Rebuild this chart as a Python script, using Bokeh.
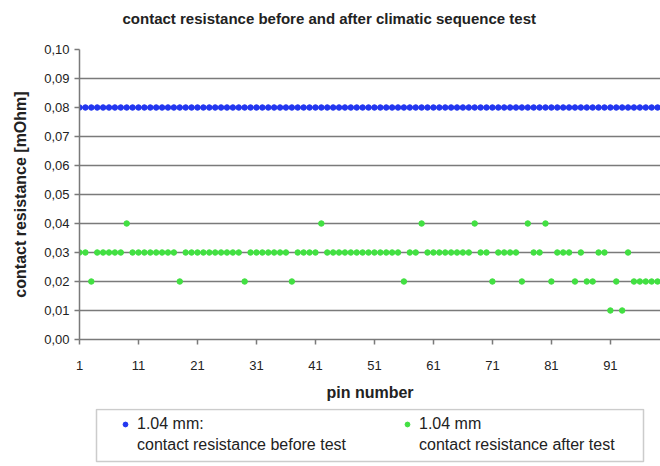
from bokeh.plotting import figure
from bokeh.layouts import column
from bokeh.models import (Range1d, FixedTicker, CustomJSTickFormatter, Legend, LegendItem,
                          ColumnDataSource, BoxAnnotation, Label)
from bokeh.embed import file_html
from bokeh.resources import INLINE

# ---- data ----
title_text = "contact resistance before and after climatic sequence test"
x_label = "pin number"
y_label = "contact resistance [mOhm]"
legend_line1 = ["1.04 mm:", "1.04 mm"]
legend_line2 = ["contact resistance before test", "contact resistance after test"]

pins = list(range(1, 101))
before_test = [
    0.08, 0.08, 0.08, 0.08, 0.08, 0.08, 0.08, 0.08, 0.08, 0.08,
    0.08, 0.08, 0.08, 0.08, 0.08, 0.08, 0.08, 0.08, 0.08, 0.08,
    0.08, 0.08, 0.08, 0.08, 0.08, 0.08, 0.08, 0.08, 0.08, 0.08,
    0.08, 0.08, 0.08, 0.08, 0.08, 0.08, 0.08, 0.08, 0.08, 0.08,
    0.08, 0.08, 0.08, 0.08, 0.08, 0.08, 0.08, 0.08, 0.08, 0.08,
    0.08, 0.08, 0.08, 0.08, 0.08, 0.08, 0.08, 0.08, 0.08, 0.08,
    0.08, 0.08, 0.08, 0.08, 0.08, 0.08, 0.08, 0.08, 0.08, 0.08,
    0.08, 0.08, 0.08, 0.08, 0.08, 0.08, 0.08, 0.08, 0.08, 0.08,
    0.08, 0.08, 0.08, 0.08, 0.08, 0.08, 0.08, 0.08, 0.08, 0.08,
    0.08, 0.08, 0.08, 0.08, 0.08, 0.08, 0.08, 0.08, 0.08, 0.08,
]
after_test = [
    0.03, 0.03, 0.02, 0.03, 0.03, 0.03, 0.03, 0.03, 0.04, 0.03,
    0.03, 0.03, 0.03, 0.03, 0.03, 0.03, 0.03, 0.02, 0.03, 0.03,
    0.03, 0.03, 0.03, 0.03, 0.03, 0.03, 0.03, 0.03, 0.02, 0.03,
    0.03, 0.03, 0.03, 0.03, 0.03, 0.03, 0.02, 0.03, 0.03, 0.03,
    0.03, 0.04, 0.03, 0.03, 0.03, 0.03, 0.03, 0.03, 0.03, 0.03,
    0.03, 0.03, 0.03, 0.03, 0.03, 0.02, 0.03, 0.03, 0.04, 0.03,
    0.03, 0.03, 0.03, 0.03, 0.03, 0.03, 0.03, 0.04, 0.03, 0.03,
    0.02, 0.03, 0.03, 0.03, 0.03, 0.02, 0.04, 0.03, 0.03, 0.04,
    0.02, 0.03, 0.03, 0.03, 0.02, 0.03, 0.02, 0.02, 0.03, 0.03,
    0.01, 0.02, 0.01, 0.03, 0.02, 0.02, 0.02, 0.02, 0.02, 0.02,
]
x_ticks = [1, 11, 21, 31, 41, 51, 61, 71, 81, 91]
y_ticks = [0.0, 0.01, 0.02, 0.03, 0.04, 0.05, 0.06, 0.07, 0.08, 0.09, 0.1]

FONT = "Liberation Sans"
TXT = "#222222"
GRID = "#7a7a7a"
BLUE = "#2236f0"
GREEN = "#42e042"


def strip(height):
    f = figure(width=660, height=height, output_backend="svg", toolbar_location=None,
               x_range=Range1d(0, 581), y_range=Range1d(0, height),
               x_axis_location=None, y_axis_location=None,
               min_border_left=79, min_border_right=0, min_border_top=0, min_border_bottom=0)
    f.outline_line_color = None
    f.xgrid.grid_line_color = None
    f.ygrid.grid_line_color = None
    f.background_fill_color = "white"
    f.border_fill_color = "white"
    return f


# ---- title strip (coordinates are pixels from the strip's frame) ----
tf = strip(30)
tf.add_layout(Label(x=43, y=12, text=title_text, text_font=FONT, text_font_size="15px",
                    text_font_style="bold", text_color=TXT, text_baseline="middle",
                    text_align="left"))

# ---- main chart ----
p = figure(width=660, height=378, output_backend="svg", toolbar_location=None,
           x_range=Range1d(1, 99.5), y_range=Range1d(0, 0.1),
           min_border_left=79, min_border_right=0, min_border_top=19, min_border_bottom=69)
p.background_fill_color = "white"
p.border_fill_color = "white"
p.outline_line_color = None

src = ColumnDataSource(dict(pin=pins, before=before_test, after=after_test))
p.scatter("pin", "before", source=src, size=5.5, marker="circle",
          fill_color=BLUE, line_color=BLUE)
p.scatter("pin", "after", source=src, size=5.5, marker="circle",
          fill_color=GREEN, line_color=GREEN)

p.xaxis.ticker = FixedTicker(ticks=x_ticks)
p.yaxis.ticker = FixedTicker(ticks=y_ticks)
p.yaxis.formatter = CustomJSTickFormatter(code="return tick.toFixed(2).replace('.', ',');")
for ax in (p.xaxis[0], p.yaxis[0]):
    ax.axis_line_color = GRID
    ax.axis_line_width = 1.5
    ax.major_tick_line_color = GRID
    ax.major_tick_line_width = 1.5
    ax.major_tick_in = 0
    ax.major_tick_out = 5
    ax.minor_tick_line_color = None
    ax.major_label_text_font = FONT
    ax.major_label_text_font_size = "13px"
    ax.major_label_text_color = TXT
    ax.axis_label_text_font = FONT
    ax.axis_label_text_font_style = "bold"
    ax.axis_label_text_color = TXT
p.xaxis.axis_label = x_label
p.xaxis.axis_label_text_font_size = "16px"
p.xaxis.major_label_standoff = 16
p.xaxis.axis_label_standoff = 11
p.yaxis.axis_label = y_label
p.yaxis.axis_label_text_font_size = "16px"
p.yaxis.major_label_standoff = 5
p.yaxis.axis_label_standoff = 12

p.xgrid.grid_line_color = None
p.ygrid.grid_line_color = GRID
p.ygrid.grid_line_width = 1.5

# ---- legend strip below ----
lg = strip(58)
lg.add_layout(BoxAnnotation(left=17, right=564, bottom=5, top=57,
                            fill_alpha=0, line_color="#555555", line_width=1.5))

off = dict(x=[-1000], y=[-1000])
m1 = lg.scatter(size=5, marker="circle", fill_color=BLUE, line_color=BLUE, **off)
m2 = lg.scatter(size=5, marker="circle", fill_color=GREEN, line_color=GREEN, **off)
n1 = lg.scatter(size=5, marker="circle", fill_alpha=0, line_alpha=0, **off)
n2 = lg.scatter(size=5, marker="circle", fill_alpha=0, line_alpha=0, **off)

common = dict(orientation="horizontal", border_line_color=None, background_fill_alpha=0,
              label_text_font=FONT, label_text_font_size="16px", label_text_color=TXT,
              glyph_width=12, glyph_height=12, label_standoff=6,
              label_width=215, spacing=49, padding=0, margin=0)
leg1 = Legend(items=[LegendItem(label=legend_line1[0], renderers=[m1]),
                     LegendItem(label=legend_line1[1], renderers=[m2])],
              location=(40, 33), **common)
leg2 = Legend(items=[LegendItem(label=legend_line2[0], renderers=[n1]),
                     LegendItem(label=legend_line2[1], renderers=[n2])],
              location=(40, 12), **common)
lg.add_layout(leg1, "center")
lg.add_layout(leg2, "center")

layout = column(tf, p, lg, spacing=0)
open("out.html", "w").write(file_html(layout, INLINE))
